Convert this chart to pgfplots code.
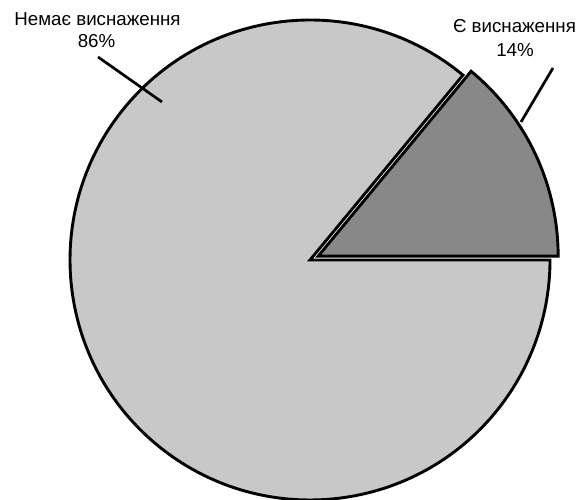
\documentclass[border=0pt]{standalone}
\usepackage{pgfplots}
\pgfplotsset{compat=1.18}
\usepackage{fontspec}
\setmainfont{Liberation Sans}
\definecolor{lightslice}{RGB}{200,200,200}
\definecolor{darkslice}{RGB}{136,136,136}
% pie values (percent)
\def\valNo{86}
\def\valYes{14}
\begin{document}
\begin{tikzpicture}
\pgfmathsetmacro{\angYes}{3.6*\valYes}
\pgfmathsetmacro{\angMid}{\angYes/2}
\begin{axis}[width=587bp,height=500bp,scale only axis,hide axis,
  xmin=0,xmax=587,ymin=0,ymax=500,clip=false]
% large slice (no depletion)
\filldraw[fill=lightslice,draw=black,line width=2.9bp,line join=miter]
  (axis cs:310,240) -- ([shift={(\angYes:240bp)}]axis cs:310,240)
  arc[start angle=\angYes,end angle=360,radius=240bp] -- cycle;
% small exploded slice (depletion)
\filldraw[fill=darkslice,draw=black,line width=2.9bp,line join=miter]
  ([shift={(\angMid:9bp)}]axis cs:310,240) -- ++(0:240bp)
  arc[start angle=0,end angle=\angYes,radius=240bp] -- cycle;
% leader lines
\draw[line width=2.7bp] (axis cs:98,443) -- (axis cs:162,398);
\draw[line width=2.7bp] (axis cs:553,432) -- (axis cs:521,378);
% labels
\node[anchor=base,inner sep=0pt,font=\fontsize{18.8}{22}\selectfont] at (axis cs:97.5,474) {Немає виснаження};
\node[anchor=base,inner sep=0pt,font=\fontsize{18.8}{22}\selectfont] at (axis cs:96.5,452) {\valNo\%};
\node[anchor=base,inner sep=0pt,font=\fontsize{18.8}{22}\selectfont] at (axis cs:514.5,467) {Є виснаження};
\node[anchor=base,inner sep=0pt,font=\fontsize{18.8}{22}\selectfont] at (axis cs:515,443) {\valYes\%};
\end{axis}
\pgfresetboundingbox
\path[use as bounding box] (current axis.south west) rectangle (current axis.north east);
\end{tikzpicture}
\end{document}
